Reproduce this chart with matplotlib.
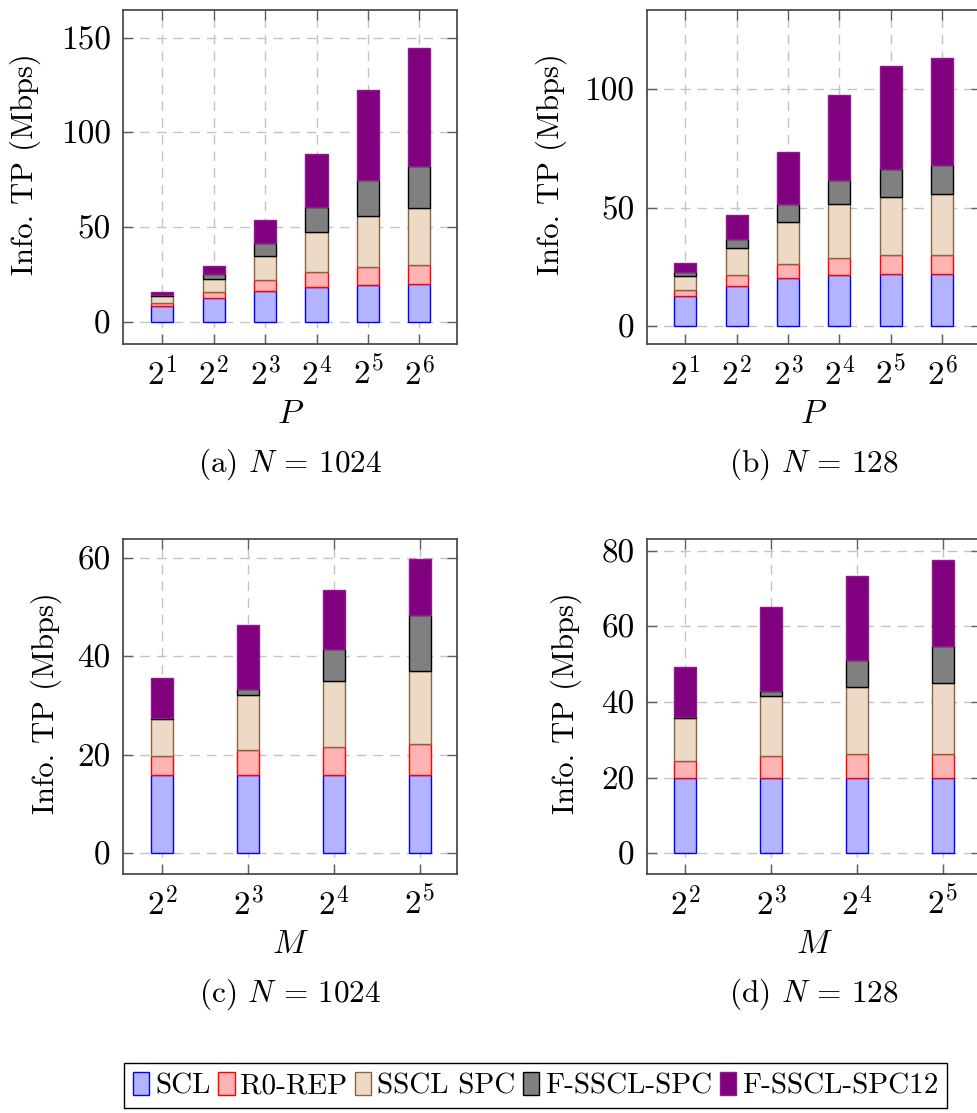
import matplotlib.pyplot as plt
import numpy as np

plt.rcParams['font.family'] = 'cmr10'
plt.rcParams['mathtext.fontset'] = 'cm'
plt.rcParams['axes.formatter.use_mathtext'] = True

#===================================================================================================
# data : stacked segment heights (Mbps), bottom to top

series = ['SCL', 'R0-REP', 'SSCL SPC', 'F-SSCL-SPC', 'F-SSCL-SPC12']

p_labels = ['$2^{1}$', '$2^{2}$', '$2^{3}$', '$2^{4}$', '$2^{5}$', '$2^{6}$']
m_labels = ['$2^{2}$', '$2^{3}$', '$2^{4}$', '$2^{5}$']

# (a) N = 1024, varying P
scl_a = [8.4, 12.7, 16.0, 18.2, 19.2, 19.7]
rep_a = [1.6, 3.1, 5.9, 8.0, 9.5, 10.1]
spc_a = [3.6, 6.9, 12.9, 21.2, 27.1, 30.2]
fspc_a = [0.5, 2.6, 6.9, 13.0, 18.9, 22.4]
fspc12_a = [1.4, 4.3, 12.0, 28.1, 47.6, 61.9]

# (b) N = 128, varying P
scl_b = [12.4, 16.9, 20.0, 21.3, 21.9, 22.0]
rep_b = [2.6, 4.4, 6.1, 7.5, 7.9, 8.0]
spc_b = [6.2, 11.4, 17.9, 22.8, 24.8, 25.6]
fspc_b = [1.5, 4.0, 7.3, 10.2, 11.8, 12.2]
fspc12_b = [3.7, 10.1, 22.0, 35.8, 43.5, 45.6]

# (c) N = 1024, varying M
scl_c = [16.0, 16.0, 16.0, 16.0]
rep_c = [3.7, 4.9, 5.7, 6.2]
spc_c = [7.6, 11.3, 13.3, 14.9]
fspc_c = [0.2, 1.1, 6.6, 11.3]
fspc12_c = [8.1, 13.0, 11.8, 11.4]

# (d) N = 128, varying M
scl_d = [20.0, 20.0, 20.0, 20.0]
rep_d = [4.3, 5.6, 6.1, 6.3]
spc_d = [11.5, 15.9, 17.8, 18.6]
fspc_d = [0.1, 1.5, 7.3, 9.8]
fspc12_d = [13.3, 22.2, 22.2, 22.8]

fills = ['#b3b3ff', '#ffb3b3', '#ecd9c6', '#808080', '#800080']
edges = ['#0000ff', '#ff0000', '#8a6440', '#000000', '#8c1a8c']

#===================================================================================================
# figure + axes (pixel boxes on a 978 x 1113 canvas)

W, H = 978, 1113
fig = plt.figure(figsize=(W / 100, H / 100), dpi=100)


def px_axes(left, top, w, h):
    return fig.add_axes([left / W, 1 - (top + h) / H, w / W, h / H])


def stacked(ax, labels, parts, width, xlim, ylim, yticks, xlabel, caption):
    x = np.arange(1, len(labels) + 1)
    bottom = np.zeros(len(labels))
    handles = []
    for name, vals, fc, ec in zip(series, parts, fills, edges):
        b = ax.bar(x, vals, width, bottom=bottom, color=fc, edgecolor=ec,
                   linewidth=1.0, label=name, zorder=3)
        bottom = bottom + np.array(vals)
        handles.append(b)
    ax.set_xlim(*xlim)
    ax.set_ylim(*ylim)
    ax.set_xticks(x)
    ax.set_xticklabels(labels)
    ax.set_yticks(yticks)
    ax.set_yticklabels([str(t) for t in yticks])
    ax.grid(True, color='#c4c4c4', linestyle=(0, (7, 5)), linewidth=1.0, zorder=0)
    ax.tick_params(direction='in', length=7, width=1.0, color='#606060',
                   top=True, right=True, labelsize=24, pad=9)
    for s in ax.spines.values():
        s.set_color('#404040')
        s.set_linewidth(1.2)
    ax.set_xlabel(xlabel, fontsize=24, labelpad=6)
    ax.text(0.5, -0.36, caption, transform=ax.transAxes, ha='center',
            va='center', fontsize=22.5)
    return handles


ax_a = px_axes(123.3, 10, 334, 334)
ax_b = px_axes(646.7, 10, 334, 334)
ax_c = px_axes(123.3, 539.3, 334, 334.7)
ax_d = px_axes(647.3, 539.3, 334, 334.7)

h = stacked(ax_a, p_labels, [scl_a, rep_a, spc_a, fspc_a, fspc12_a], 0.43,
            (0.24, 6.74), (-11.8, 164.6), [0, 50, 100, 150], '$P$', '(a) $N$ = 1024')
stacked(ax_b, p_labels, [scl_b, rep_b, spc_b, fspc_b, fspc12_b], 0.43,
        (0.25, 6.75), (-7.7, 133.5), [0, 50, 100], '$P$', '(b) $N$ = 128')
stacked(ax_c, m_labels, [scl_c, rep_c, spc_c, fspc_c, fspc12_c], 0.257,
        (0.545, 4.44), (-4.2, 63.8), [0, 20, 40, 60], '$M$', '(c) $N$ = 1024')
stacked(ax_d, m_labels, [scl_d, rep_d, spc_d, fspc_d, fspc12_d], 0.257,
        (0.557, 4.45), (-5.5, 83.0), [0, 20, 40, 60, 80], '$M$', '(d) $N$ = 128')

# y labels
for xp, yp in [(25, 164), (551, 164), (46, 703), (566, 703)]:
    fig.text(xp / W, 1 - yp / H, 'Info. TP (Mbps)', rotation=90, ha='center',
             va='center', fontsize=22)

#===================================================================================================
# shared legend along the bottom

leg = fig.legend(handles=h, labels=series, loc='upper left',
                 bbox_to_anchor=(124 / W, 1 - 1063 / H), ncol=5, fontsize=21,
                 frameon=True, fancybox=False, edgecolor='black', framealpha=1,
                 handlelength=0.57, handleheight=0.86, handletextpad=0.2,
                 columnspacing=0.25, borderpad=0.3, borderaxespad=0)
leg.get_frame().set_linewidth(1.0)

plt.savefig('out.png', dpi=100)
